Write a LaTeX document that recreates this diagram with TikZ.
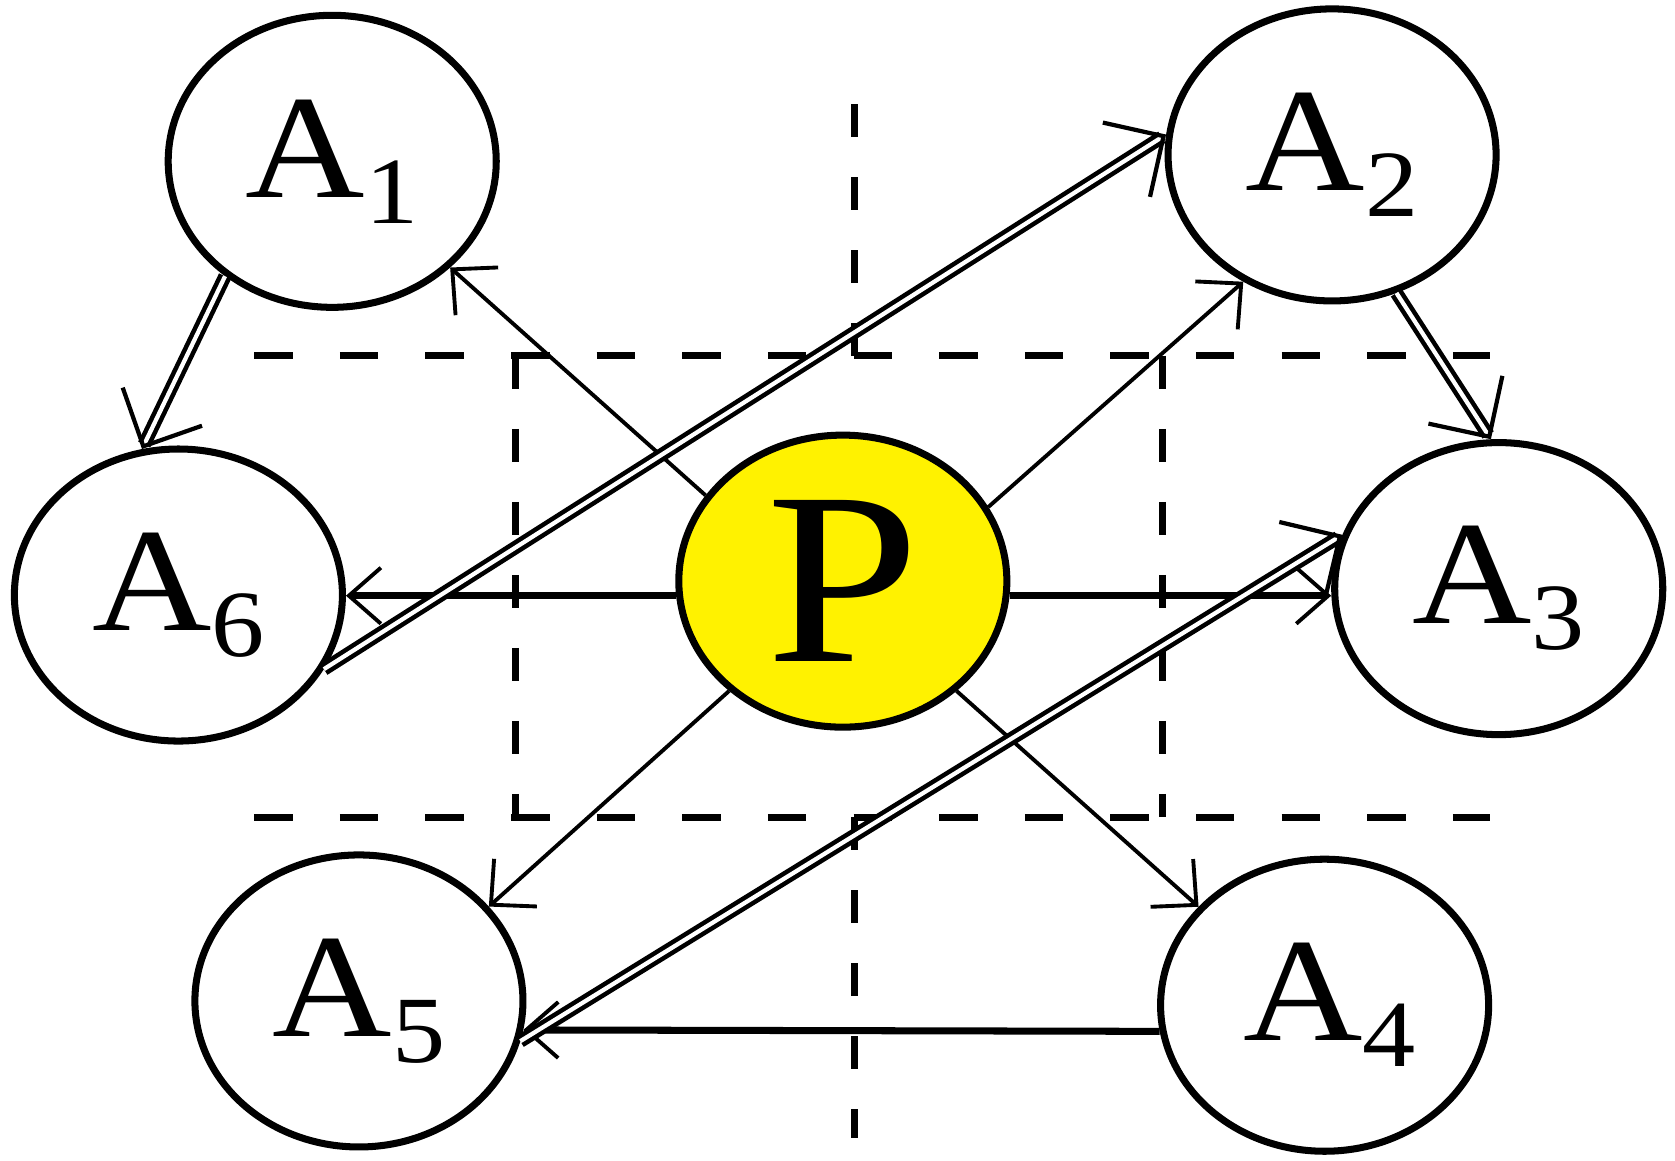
\documentclass[tikz,border=0pt]{standalone}
\usepackage{graphicx}
\usepackage{fontspec}
\setmainfont{Liberation Serif}
\usetikzlibrary{shapes.geometric,arrows.meta}

\newcommand{\agentlabel}[1]{\scalebox{1.12}[1]{A\raisebox{-0.26cm}{\fontsize{27pt}{27pt}\selectfont #1}}}

\tikzset{
  agent/.style={ellipse, draw, line width=2pt, minimum width=3.28cm, minimum height=2.92cm,
    inner sep=0pt, font=\fontsize{42pt}{42pt}\selectfont},
  principal/.style={agent, fill=yellow, font=\fontsize{70pt}{70pt}\selectfont},
  partline/.style={line width=2pt, dash pattern=on 0.385cm off 0.471cm},
  vpartline/.style={line width=2pt, dash pattern=on 0.33cm off 0.4cm},
  thinarrow/.style={line width=1.1pt, -{Straight Barb[length=3.3mm, width=6.4mm, line width=1.1pt]}},
  flatarrow/.style={line width=2pt, -{Straight Barb[length=3.2mm, width=5.6mm, line width=1.1pt]}},
  dblarrow/.style={double, line width=1.3pt, double distance=1.2pt,
    -{Straight Barb[length=4.4mm, width=8.8mm, line width=1.2pt]}}
}

\begin{document}
\begin{tikzpicture}[x=0.010682cm, y=-0.010682cm]
  \useasboundingbox (0,0) rectangle (1568,1086);

  % partition lines
  \draw[partline] (238,333) -- (1395,333);
  \draw[partline] (238,765) -- (1395,765);
  \draw[vpartline] (483,333) -- (483,765);
  \draw[vpartline] (1088,333) -- (1088,765);
  \draw[vpartline] (800,333) -- (800,95);
  \draw[vpartline] (800,765) -- (800,1065);

  % agents
  \node[agent] (A1) at (311,151) {\agentlabel{1}\hspace{0.4cm}};
  \node[agent] (A2) at (1247,145) {\agentlabel{2}};
  \node[agent] (A3) at (1403,551) {\agentlabel{3}\hspace{0.1cm}};
  \node[agent] (A4) at (1240,941) {\hspace{0.1cm}\agentlabel{4}};
  \node[agent] (A5) at (336,937) {\agentlabel{5}\hspace{0.4cm}};
  \node[agent] (A6) at (167,557) {\agentlabel{6}\hspace{0.35cm}};
  \node[principal] (P) at (789,544) {\scalebox{1.12}[1]{P}};

  % single arrows from P
  \draw[thinarrow] (P.148) -- (A1.-42);
  \draw[thinarrow] (P.27) -- (A2.235);
  \draw[thinarrow] (P.-44) -- (A4.142);
  \draw[thinarrow] (P.224) -- (A5.36);
  \draw[flatarrow] (P.185) -- (P.185 -| A6.east);
  \draw[flatarrow] (P.-5) -- (P.-5 -| A3.west);
  \draw[flatarrow] (A4.189) -- (A5.-10);

  % double arrows
  \draw[dblarrow] (A1.227) -- (A6.104);
  \draw[dblarrow] (A2.-65) -- (A3.93);
  \draw[dblarrow] (A6.-27) -- (A2.173);
  \draw[dblarrow] (A5.-14) -- (A3.161);

\end{tikzpicture}
\end{document}
